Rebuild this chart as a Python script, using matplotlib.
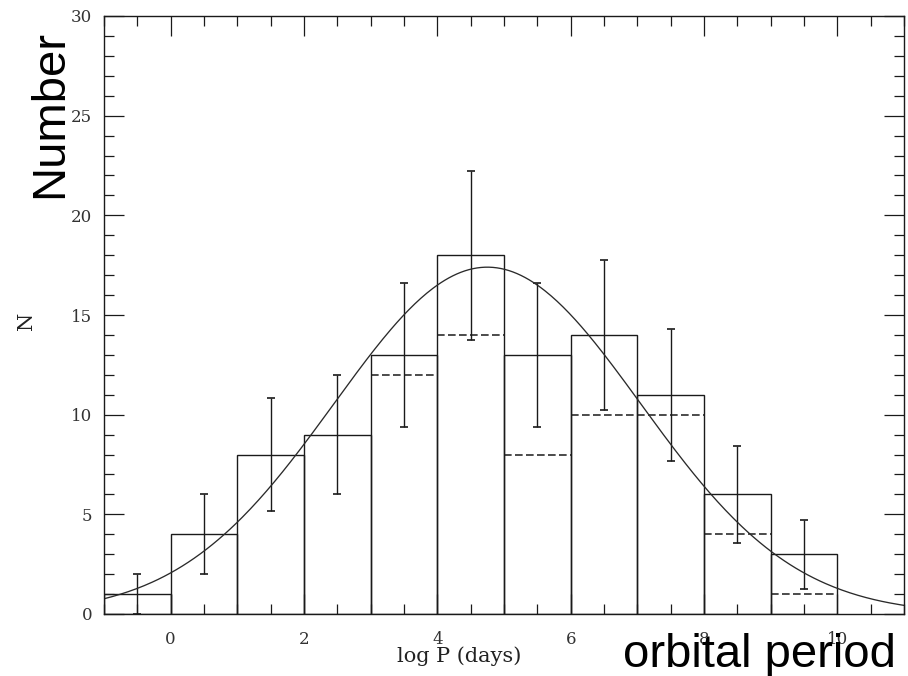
import numpy as np
import matplotlib
matplotlib.use("Agg")
import matplotlib.pyplot as plt
from matplotlib.ticker import MultipleLocator

# ---- data ----
bin_edges = [-1, 0, 1, 2, 3, 4, 5, 6, 7, 8, 9, 10]
counts = [1, 4, 8, 9, 13, 18, 13, 14, 11, 6, 3]
# dashed sub-sample histogram (bins 3..10)
dashed_left = [3, 4, 5, 6, 7, 8, 9]
dashed_vals = [12, 14, 8, 10, 10, 4, 1]
# Gaussian fit parameters
gauss_amp = 17.4
gauss_mu = 4.75
gauss_sigma = 2.3

x_ticks = [0, 2, 4, 6, 8, 10]
y_ticks = [0, 5, 10, 15, 20, 25, 30]

W, H = 908, 676
fig = plt.figure(figsize=(W / 100, H / 100), dpi=100)
ax = fig.add_axes([104 / W, (H - 614) / H, (904 - 104) / W, (614 - 16) / H])

ink = "#1a1a1a"
edges = np.array(bin_edges, dtype=float)
centers = (edges[:-1] + edges[1:]) / 2
widths = np.diff(edges)
cnt = np.array(counts, dtype=float)

ax.bar(centers, cnt, width=widths, fill=False, edgecolor=ink, linewidth=1.0)
ax.errorbar(centers, cnt, yerr=np.sqrt(cnt), fmt="none", ecolor=ink,
            elinewidth=1.0, capsize=2.6, capthick=1.2)
dl = np.array(dashed_left, dtype=float)
ax.hlines(dashed_vals, dl, dl + 1, colors=ink, linewidth=1.1,
          linestyles=[(0, (5, 2.2))])

xc = np.linspace(-1, 11, 400)
ax.plot(xc, gauss_amp * np.exp(-(xc - gauss_mu) ** 2 / (2 * gauss_sigma ** 2)),
        color="#2a2a2a", linewidth=0.95)

ax.set_xlim(-1, 11)
ax.set_ylim(0, 30)
ax.set_xticks(x_ticks)
ax.set_yticks(y_ticks)
ax.xaxis.set_minor_locator(MultipleLocator(0.5))
ax.yaxis.set_minor_locator(MultipleLocator(1))
ax.tick_params(which="both", direction="in", top=True, right=True,
               color=ink, width=0.9)
ax.tick_params(which="major", length=14.5)
ax.tick_params(which="minor", length=7.2)
ax.tick_params(axis="x", which="major", pad=12)
ax.tick_params(axis="y", which="major", pad=8.5)
for lab in ax.get_xticklabels() + ax.get_yticklabels():
    lab.set_fontfamily("DejaVu Serif")
    lab.set_fontsize(12)
    lab.set_color("#333333")
for s in ax.spines.values():
    s.set_color(ink)
    s.set_linewidth(1.0)

def px(x, y):
    return x / W, 1 - y / H

fig.text(*px(459.5, 662), "log P (days)", family="DejaVu Serif", fontsize=15,
         ha="center", va="baseline", color="#222222")
fig.text(*px(32, 321), "N", family="DejaVu Serif", fontsize=15, rotation=90,
         rotation_mode="anchor", ha="center", va="baseline", color="#222222")
fig.text(*px(62, 114), "Number", family="Liberation Sans", fontsize=34,
         rotation=90, rotation_mode="anchor", ha="center", va="baseline",
         color="black")
fig.text(*px(759, 667), "orbital period", family="Liberation Sans", fontsize=34,
         ha="center", va="baseline", color="black")

fig.savefig("out.png", dpi=100)
